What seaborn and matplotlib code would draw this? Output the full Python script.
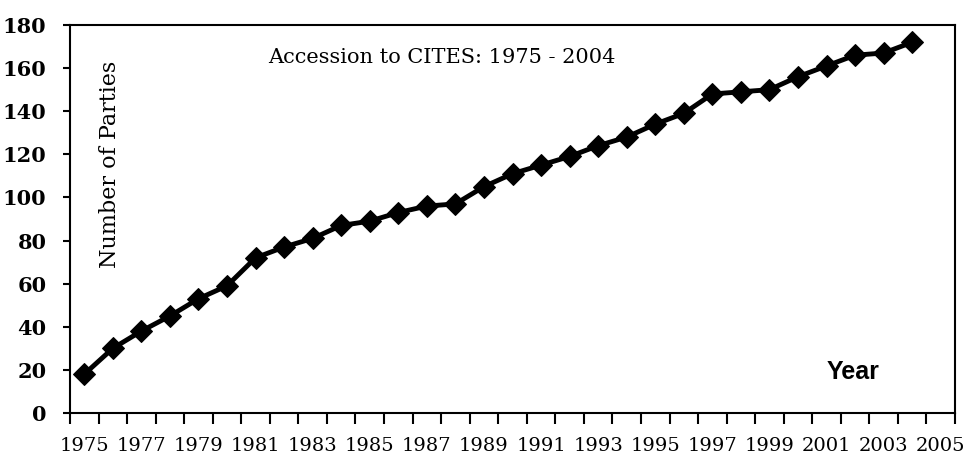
import numpy as np
import pandas as pd
import seaborn as sns
import matplotlib.pyplot as plt
from matplotlib.ticker import FixedLocator

years = list(range(1975, 2005))
parties = [18, 30, 38, 45, 53, 59, 72, 77, 81, 87, 89, 93, 96, 97, 105,
           111, 115, 119, 124, 128, 134, 139, 148, 149, 150, 156, 161, 166, 167, 172]
tick_years = list(range(1975, 2006, 2))
y_ticks = list(range(0, 181, 20))

df = pd.DataFrame({"Year": years, "Parties": parties})

sns.set_theme(style="ticks")
plt.rcParams["font.family"] = ["DejaVu Serif"]
plt.rcParams["text.color"] = "black"
plt.rcParams["xtick.color"] = "black"
plt.rcParams["ytick.color"] = "black"

fig = plt.figure(figsize=(9.7, 4.67), dpi=100)
ax = fig.add_axes([70 / 970, 1 - 413 / 467, (955 - 70) / 970, (413 - 25) / 467])

sns.lineplot(data=df, x="Year", y="Parties", ax=ax, color="black", linewidth=3.5,
             marker="D", markersize=11, markeredgecolor="black", markerfacecolor="black")

ax.set_xlim(1974.5, 2005.5)
ax.set_ylim(0, 180)
ax.set_yticks(y_ticks)
ax.set_xticks(tick_years)
ax.set_xticklabels([str(y) for y in tick_years], fontsize=14)
ax.xaxis.set_minor_locator(FixedLocator(np.arange(1974.5, 2006, 1)))
ax.tick_params(axis="x", which="major", length=0, pad=17)
ax.tick_params(axis="x", which="minor", length=8, width=1.5, direction="out", color="black")
ax.tick_params(axis="y", which="major", length=5, width=1.5, pad=12, labelsize=15)
for lab in ax.get_yticklabels():
    lab.set_fontweight("bold")

ax.set_xlabel("")
ax.set_ylabel("")
for s in ax.spines.values():
    s.set_visible(True)
    s.set_linewidth(1.5)
    s.set_color("black")

ax.text(0.42, 0.915, "Accession to CITES: 1975 - 2004", transform=ax.transAxes,
        ha="center", va="center", fontsize=15, color="black")
ax.text(0.045, 0.64, "Number of Parties", transform=ax.transAxes, rotation=90,
        ha="center", va="center", fontsize=16, color="black")
ax.text(0.885, 0.105, "Year", transform=ax.transAxes, ha="center", va="center",
        fontsize=18, fontweight="bold", color="black", family=["Liberation Sans"])

fig.savefig("out.png", dpi=100, facecolor="white")
